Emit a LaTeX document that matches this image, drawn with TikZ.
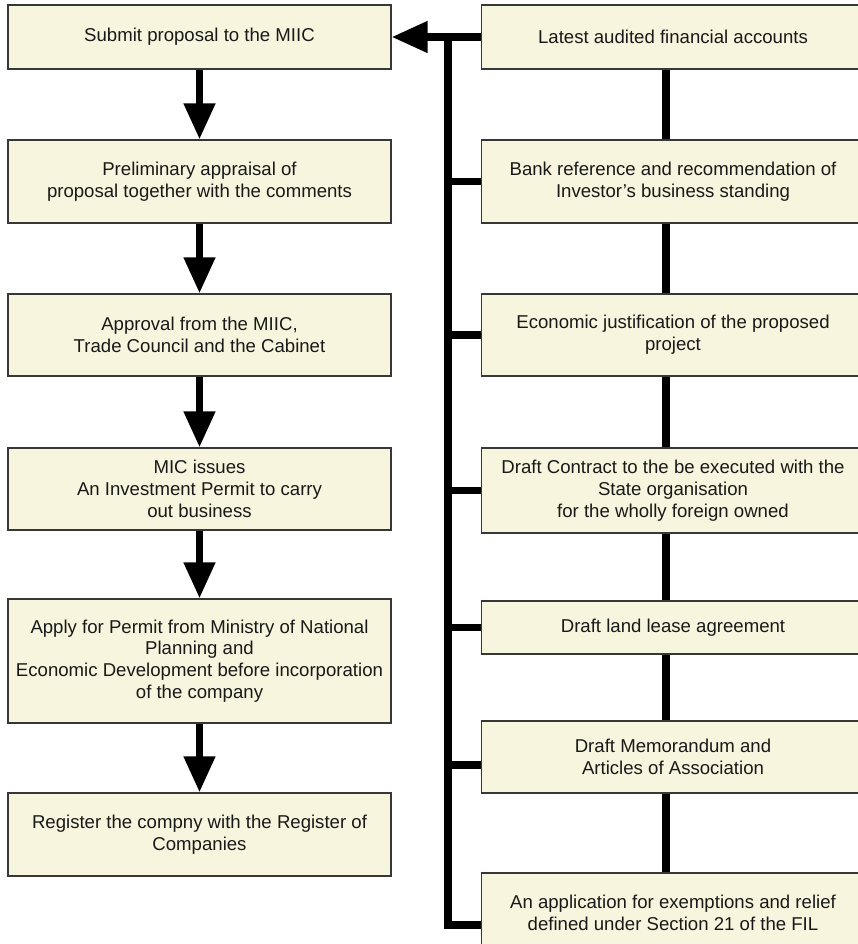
\documentclass[tikz,border=0pt]{standalone}
\usepackage{fontspec}
\setmainfont{Liberation Sans}
\usetikzlibrary{arrows.meta}
\definecolor{boxfill}{RGB}{247,245,221}
\definecolor{boxline}{RGB}{55,55,55}
\begin{document}
\begin{tikzpicture}[x=1pt,y=-1pt,
	stepbox/.style={draw=boxline, line width=1.2pt, fill=boxfill, text=black!90, minimum width=383pt, inner sep=0pt, align=center, font=\fontsize{18.6}{21.7}\selectfont},
	flow/.style={line width=7.5pt, -{Triangle[length=36pt,width=30pt]}},
	bus/.style={line width=7.5pt}]
	\useasboundingbox (0,0) rectangle (858,944);
	% steps on the left
	\node (p1) at (199.5,37)[stepbox, minimum height=64pt]{Submit proposal to the MIIC};
	\node (p2) at (199.5,181.5)[stepbox, minimum height=83pt]{Preliminary appraisal of\\proposal together with the comments};
	\node (p3) at (199.5,335)[stepbox, minimum height=82pt]{Approval from the MIIC,\\Trade Council and the Cabinet};
	\node (p4) at (199.5,489)[stepbox, minimum height=82pt]{MIC issues\\An Investment Permit to carry\\out business};
	\node (p5) at (199.5,661)[stepbox, minimum height=124pt]{Apply for Permit from Ministry of National\\Planning and\\Economic Development before incorporation\\of the company};
	\node (p6) at (199.5,834.5)[stepbox, minimum height=83pt]{Register the compny with the Register of\\Companies};
	% documents on the right
	\node (d1) at (673,37)[stepbox, minimum height=64pt]{Latest audited financial accounts};
	\node (d2) at (673,181.5)[stepbox, minimum height=83pt]{Bank reference and recommendation of\\Investor’s business standing};
	\node (d3) at (673,335)[stepbox, minimum height=82pt]{Economic justification of the proposed\\project};
	\node (d4) at (673,490.5)[stepbox, minimum height=85pt]{Draft Contract to the be executed with the\\State organisation\\for the wholly foreign owned};
	\node (d5) at (673,627.5)[stepbox, minimum height=53pt]{Draft land lease agreement};
	\node (d6) at (673,757)[stepbox, minimum height=72pt]{Draft Memorandum and\\Articles of Association};
	\node (d7) at (673,913)[stepbox, minimum height=80pt]{An application for exemptions and relief\\defined under Section 21 of the FIL};
	% arrows
	\draw[flow] (p1) -- (p2);
	\draw[flow] (p2) -- (p3);
	\draw[flow] (p3) -- (p4);
	\draw[flow] (p4) -- (p5);
	\draw[flow] (p5) -- (p6);
	\draw[flow] (d1.west) -- (p1.east);
	% bus
	\coordinate (bustop) at (448,37);
	\coordinate (busend) at (448,925);
	\draw[bus] (bustop) -- (busend) -- (busend -| d7.west);
	\draw[bus] (d2.west) -- (d2.west -| bustop);
	\draw[bus] (d3.west) -- (d3.west -| bustop);
	\draw[bus] (d4.west) -- (d4.west -| bustop);
	\draw[bus] (d5.west) -- (d5.west -| bustop);
	\draw[bus] ([yshift=-8pt]d6.west) -- ([yshift=-8pt]d6.west -| bustop);
	% links between documents
	\draw[bus] ([xshift=-7pt]d1.south) -- ([xshift=-7pt]d2.north);
	\draw[bus] ([xshift=-7pt]d2.south) -- ([xshift=-7pt]d3.north);
	\draw[bus] ([xshift=-7pt]d3.south) -- ([xshift=-7pt]d4.north);
	\draw[bus] ([xshift=-7pt]d4.south) -- ([xshift=-7pt]d5.north);
	\draw[bus] ([xshift=-7pt]d5.south) -- ([xshift=-7pt]d6.north);
	\draw[bus] ([xshift=-7pt]d6.south) -- ([xshift=-7pt]d7.north);
\end{tikzpicture}
\end{document}
